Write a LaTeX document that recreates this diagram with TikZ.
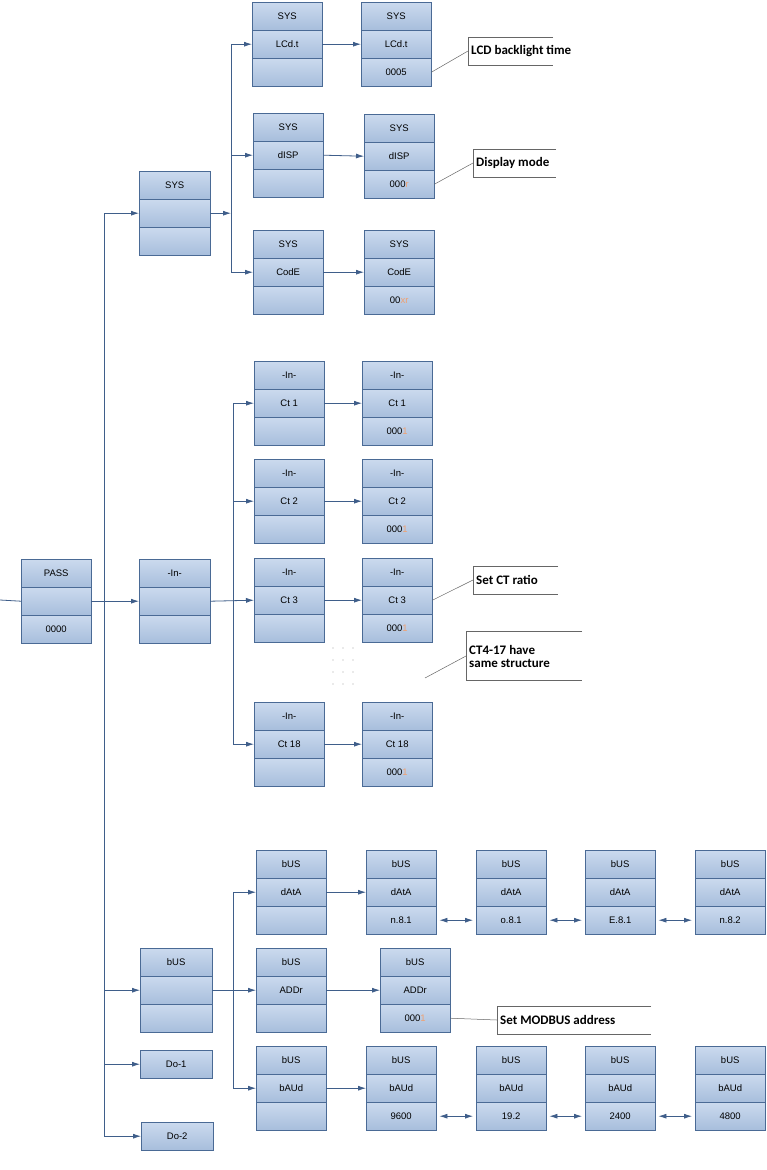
\documentclass[tikz,border=0pt]{standalone}
\usepackage{fontspec}
\setmainfont{Liberation Sans}
\newfontfamily\callfont{Carlito}
\usetikzlibrary{arrows.meta}
\definecolor{edge}{HTML}{4A6A95}
\definecolor{ctop}{HTML}{CBDAEE}
\definecolor{cbot}{HTML}{A7BEDC}
\definecolor{wire}{HTML}{3F5E8A}
\definecolor{org}{HTML}{F0A070}
\tikzset{
  cell/.style={draw=edge,top color=ctop,bottom color=cbot,minimum height=28pt,inner sep=0pt,anchor=north west,font=\fontsize{9.5}{11}\selectfont},
  wln/.style={draw=wire,line width=0.8pt},
  arr/.style={wln,-{Latex[length=8pt,width=5pt]}},
  darr/.style={wln,{Latex[length=8pt,width=5pt]}-{Latex[length=8pt,width=5pt]}},
  ctext/.style={anchor=west,inner sep=3pt,minimum height=28pt,font=\callfont\bfseries\fontsize{13}{14}\selectfont,align=left},
  cline/.style={draw=gray!80!black,line width=0.5pt},
}
% name, left x, top y, width, t1, t2, t3
\newcommand\tbox[7]{%
  \node[cell,minimum width=#4pt] (#1a) at (#2,#3) {#5};
  \node[cell,minimum width=#4pt] (#1b) at (#2,#3+28) {#6};
  \node[cell,minimum width=#4pt] (#1c) at (#2,#3+56) {#7};}
\newcommand\og[1]{\textcolor{org}{#1}}
\begin{document}
\begin{tikzpicture}[x=1pt,y=-1pt]
\useasboundingbox[fill=white] (0,0) rectangle (767,1170);
% main column
\tbox{pass}{21}{559}{70}{PASS}{}{0000}
\tbox{sysm}{139}{171}{71}{SYS}{}{}
\tbox{inm}{139}{559}{71}{-In-}{}{}
\tbox{busm}{140}{948}{72}{bUS}{}{}
\node[cell,minimum width=72pt] (do1) at (140,1050) {Do-1};
\node[cell,minimum width=72pt] (do2) at (141,1122) {Do-2};
\coordinate (start) at (0,600);
\coordinate (mbus) at (104,0);
\coordinate (sbus) at (231,0);
\coordinate (ibus) at (233,0);
\coordinate (bbus) at (233,0);
\draw[wln] (start) -- (passb.west);
\draw[arr] (passb.east) -- (inmb.west);
\draw[wln] (mbus |- sysmb.west) -- (mbus |- do2.west);
\draw[arr] (mbus |- sysmb.west) -- (sysmb.west);
\draw[arr] (mbus |- busmb.west) -- (busmb.west);
\draw[arr] (mbus |- do1.west) -- (do1.west);
\draw[arr] (mbus |- do2.west) -- (do2.west);
% SYS
\tbox{sa}{252}{2}{70}{SYS}{LCd.t}{}
\tbox{sar}{361}{2}{70}{SYS}{LCd.t}{0005}
\tbox{sb}{253}{113}{70}{SYS}{dISP}{}
\tbox{sbr}{364}{114}{70}{SYS}{dISP}{000\og{r}}
\tbox{sc}{253}{230}{70}{SYS}{CodE}{}
\tbox{scr}{364}{230}{70}{SYS}{CodE}{00\og{xr}}
\draw[arr] (sysmb.east) -- (sbus |- sysmb.east);
\draw[wln] (sbus |- sab.west) -- (sbus |- scb.west);
\draw[arr] (sbus |- sab.west) -- (sab.west);
\draw[arr] (sbus |- sbb.west) -- (sbb.west);
\draw[arr] (sbus |- scb.west) -- (scb.west);
\draw[arr] (sab.east) -- (sarb.west);
\draw[arr] (sbb.east) -- (sbrb.west);
\draw[arr] (scb.east) -- (scrb.west);
% -In-
\tbox{ca}{254}{361}{70}{-In-}{Ct 1}{}
\tbox{car}{362}{361}{70}{-In-}{Ct 1}{000\og{1}}
\tbox{cb}{254}{459}{70}{-In-}{Ct 2}{}
\tbox{cbr}{362}{459}{70}{-In-}{Ct 2}{000\og{1}}
\tbox{cc}{254}{558}{70}{-In-}{Ct 3}{}
\tbox{ccr}{362}{558}{70}{-In-}{Ct 3}{000\og{1}}
\tbox{cd}{254}{702}{70}{-In-}{Ct 18}{}
\tbox{cdr}{362}{702}{70}{-In-}{Ct 18}{000\og{1}}
\draw[arr] (inmb.east) -- (ccb.west);
\draw[wln] (ibus |- cab.west) -- (ibus |- cdb.west);
\foreach \n in {ca,cb,cd}{\draw[arr] (ibus |- \n b.west) -- (\n b.west);}
\foreach \n in {ca,cb,cc,cd}{\draw[arr] (\n b.east) -- (\n rb.west);}
\foreach \xx in {333,343,353}{\foreach \yy in {648,660,672,684}{\fill[gray!70] (\xx,\yy) circle (0.7pt);}}
% bUS
\def\xs{{256,366,476,585,695}}
\tbox{da}{256}{850}{70}{bUS}{dAtA}{}
\tbox{db}{366}{850}{70}{bUS}{dAtA}{n.8.1}
\tbox{dc}{476}{850}{70}{bUS}{dAtA}{o.8.1}
\tbox{dd}{585}{850}{70}{bUS}{dAtA}{E.8.1}
\tbox{de}{695}{850}{70}{bUS}{dAtA}{n.8.2}
\tbox{aa}{256}{948}{70}{bUS}{ADDr}{}
\tbox{ab}{380}{948}{70}{bUS}{ADDr}{000\og{1}}
\tbox{ba}{256}{1046}{70}{bUS}{bAUd}{}
\tbox{bb}{366}{1046}{70}{bUS}{bAUd}{9600}
\tbox{bc}{476}{1046}{70}{bUS}{bAUd}{19.2}
\tbox{bd}{585}{1046}{70}{bUS}{bAUd}{2400}
\tbox{be}{695}{1046}{70}{bUS}{bAUd}{4800}
\draw[arr] (busmb.east) -- (aab.west);
\draw[wln] (bbus |- dab.west) -- (bbus |- bab.west);
\draw[arr] (bbus |- dab.west) -- (dab.west);
\draw[arr] (bbus |- bab.west) -- (bab.west);
\draw[arr] (dab.east) -- (dbb.west);
\draw[arr] (aab.east) -- (abb.west);
\draw[arr] (bab.east) -- (bbb.west);
\draw[darr] ([xshift=3pt]dbc.east) -- ([xshift=-3pt]dcc.west);
\draw[darr] ([xshift=3pt]dcc.east) -- ([xshift=-3pt]ddc.west);
\draw[darr] ([xshift=3pt]ddc.east) -- ([xshift=-3pt]dec.west);
\draw[darr] ([xshift=3pt]bbc.east) -- ([xshift=-3pt]bcc.west);
\draw[darr] ([xshift=3pt]bcc.east) -- ([xshift=-3pt]bdc.west);
\draw[darr] ([xshift=3pt]bdc.east) -- ([xshift=-3pt]bec.west);
% callouts
\node[ctext] (k1) at (468,51) {LCD backlight time};
\node[ctext] (k2) at (473,163) {Display mode};
\node[ctext] (k3) at (473,580) {Set CT ratio};
\node[ctext,minimum height=49pt,font=\callfont\bfseries\fontsize{13}{13}\selectfont] (k4) at (466,656) {CT4-17 have\\same structure};
\node[ctext] (k5) at (497,1020) {Set MODBUS address};
\draw[cline] ([xshift=85pt]k1.north west) -- (k1.north west) -- (k1.south west) -- ([xshift=85pt]k1.south west);
\draw[cline] ([xshift=83pt]k2.north west) -- (k2.north west) -- (k2.south west) -- ([xshift=83pt]k2.south west);
\draw[cline] ([xshift=85pt]k3.north west) -- (k3.north west) -- (k3.south west) -- ([xshift=85pt]k3.south west);
\draw[cline] ([xshift=116pt]k4.north west) -- (k4.north west) -- (k4.south west) -- ([xshift=116pt]k4.south west);
\draw[cline] ([xshift=154pt]k5.north west) -- (k5.north west) -- (k5.south west) -- ([xshift=154pt]k5.south west);
\coordinate (k4p) at (425,678);
\draw[cline] (sarc.east) -- (k1.west);
\draw[cline] (sbrc.east) -- (k2.west);
\draw[cline] (ccrb.east) -- (k3.west);
\draw[cline] (k4p) -- (k4.west);
\draw[cline] (abc.east) -- (k5.west);
\end{tikzpicture}
\end{document}
